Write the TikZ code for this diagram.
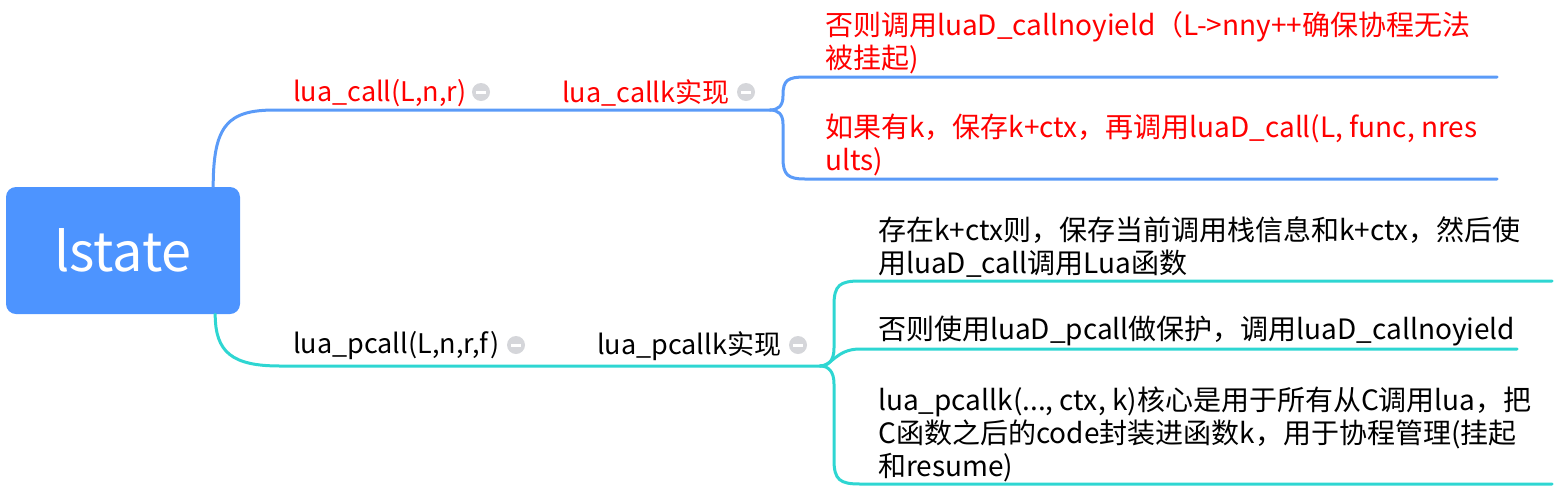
\documentclass[tikz,border=0pt]{standalone}
\usepackage{fontspec}
\setmainfont{Noto Sans CJK SC}
\usetikzlibrary{calc}
\definecolor{rootblue}{HTML}{4D94FF}
\definecolor{lineblue}{HTML}{5B9BF8}
\definecolor{lineteal}{HTML}{2ED6D2}
\definecolor{icongray}{HTML}{D5D6DA}
\definecolor{redtxt}{HTML}{FF0000}
\tikzset{
  rootbox/.style={rectangle, rounded corners=10pt, fill=rootblue, text=white, minimum width=234pt, minimum height=127pt, inner sep=0pt, font=\fontsize{54}{58}\selectfont},
  txt/.style={anchor=west, inner sep=0pt, align=left, font=\fontsize{27}{33}\selectfont},
  ctxt/.style={txt, font=\fontsize{28}{33}\selectfont},
  redt/.style={txt, text=redtxt},
  credt/.style={ctxt, text=redtxt},
  icon/.style={circle, fill=icongray, minimum size=18pt, inner sep=0pt,
    path picture={\fill[white] ([xshift=-5pt,yshift=-1.5pt]path picture bounding box.center) rectangle ([xshift=5pt,yshift=1.5pt]path picture bounding box.center);}},
  bl/.style={draw=lineblue, line width=3pt, line cap=round},
  tl/.style={draw=lineteal, line width=3pt, line cap=round},
}
\begin{document}
\begin{tikzpicture}[x=1pt,y=-1pt]
\useasboundingbox (0,0) rectangle (1559,499);
% root
\node[rootbox] (root) at (123,250.5) {lstate};
% top branch labels
\node[redt] (a1) at (293,93) {lua\_call(L,n,r)};
\node[icon] (ia1) at (481,92) {};
\node[redt] (a2) at (562,93) {lua\_callk实现};
\node[icon] (ia2) at (746,92) {};
\node[credt] (a3) at (825,43) {否则调用luaD\_callnoyield（L->nny++确保协程无法\\被挂起)};
\node[credt] (a4) at (825,145) {如果有k，保存k+ctx，再调用luaD\_call(L, func, nres\\ults)};
% bottom branch labels
\node[txt] (b1) at (293,346) {lua\_pcall(L,n,r,f)};
\node[icon] (ib1) at (516,345) {};
\node[txt] (b2) at (597,346) {lua\_pcallk实现};
\node[icon] (ib2) at (798,345) {};
\node[ctxt] (b3) at (878,247) {存在k+ctx则，保存当前调用栈信息和k+ctx，然后使\\用luaD\_call调用Lua函数};
\node[ctxt] (b4) at (878,331) {否则使用luaD\_pcall做保护，调用luaD\_callnoyield};
\node[ctxt] (b5) at (878,434) {lua\_pcallk(..., ctx, k)核心是用于所有从C调用lua，把\\C函数之后的code封装进函数k，用于协程管理(挂起\\和resume)};
% coordinates
\coordinate (rt) at ($(root.north east)+(-27,0)$);
\coordinate (rb) at ($(root.south east)+(-25,0)$);
\coordinate (j1) at (770,110);
\coordinate (j2) at (820,366);
\coordinate (e3) at (1497,77);
\coordinate (e4) at (1497,179);
\coordinate (e5) at (1552,281);
\coordinate (e6) at (1517,349);
\coordinate (e7) at (1552,484);
% top connectors
\draw[bl] (rt) .. controls ($(rt)+(0,-62)$) and (228,110) .. (275,110) -- (j1);
\draw[bl] (j1) .. controls (778,110) and (783,106) .. (783,96) -- (783,95) .. controls (783,80) and (788,77) .. (805,77) -- (e3);
\draw[bl] (j1) .. controls (778,110) and (783,114) .. (783,124) -- (783,158) .. controls (783,175) and (788,179) .. (805,179) -- (e4);
% bottom connectors
\draw[tl] (rb) .. controls ($(rb)+(0,38)$) and (232,366) .. (280,366) -- (j2);
\draw[tl] (j2) .. controls (829,366) and (834,360) .. (834,348) -- (834,305) .. controls (834,285) and (840,281) .. (860,281) -- (e5);
\draw[tl] (j2) .. controls (832,366) and (836,349) .. (860,349) -- (e6);
\draw[tl] (j2) .. controls (829,366) and (834,372) .. (834,384) -- (834,460) .. controls (834,480) and (840,484) .. (860,484) -- (e7);
\end{tikzpicture}
\end{document}
